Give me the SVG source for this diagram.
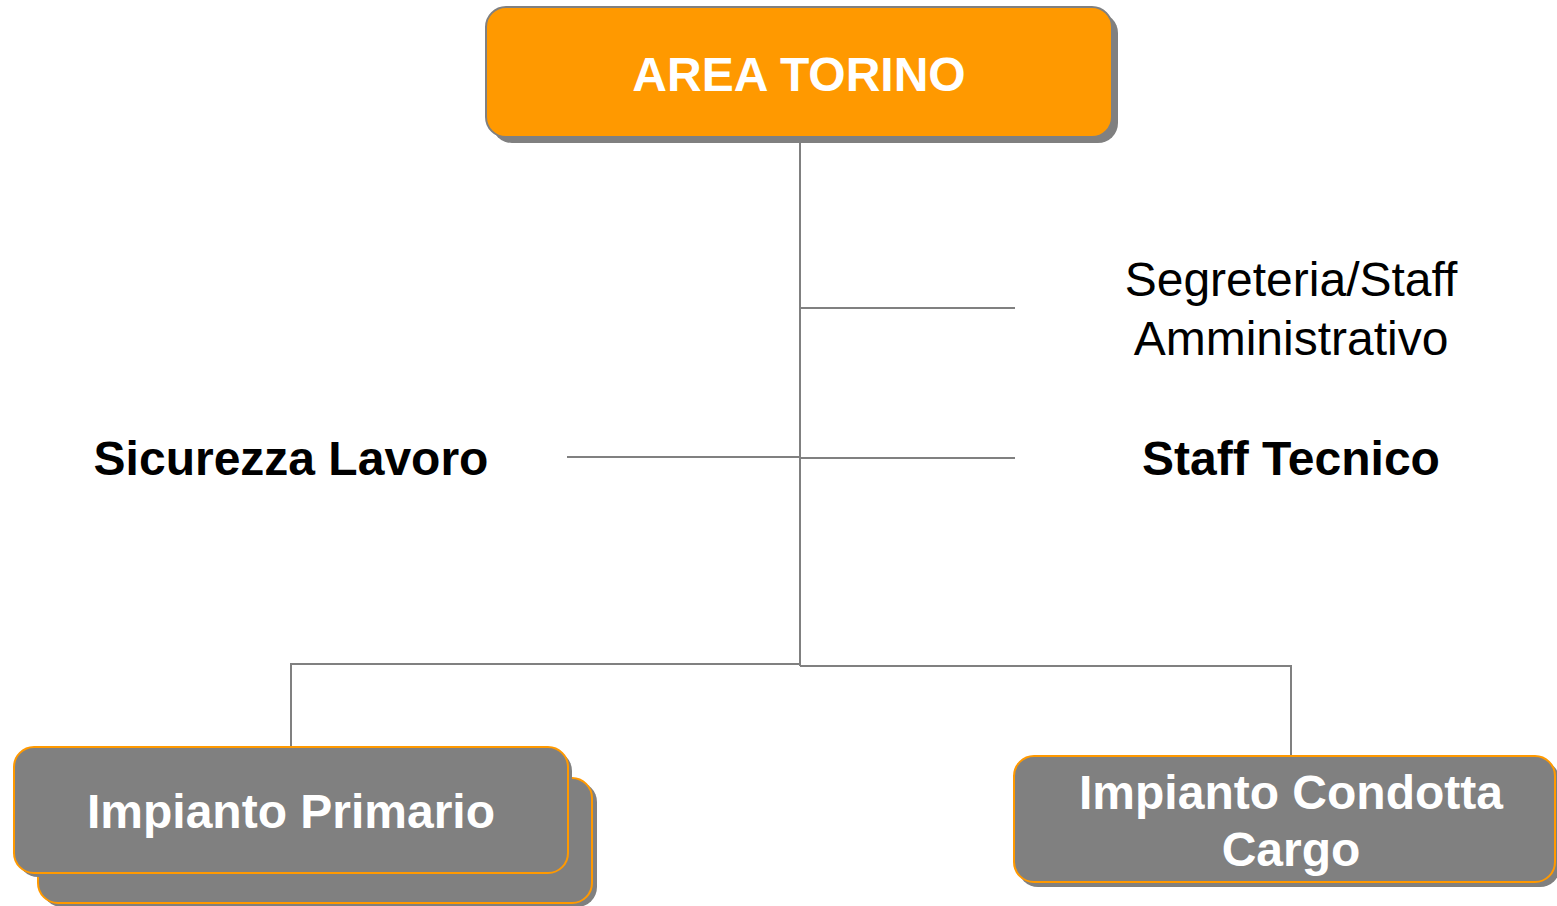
<svg xmlns="http://www.w3.org/2000/svg" width="1557" height="906" viewBox="0 0 1557 906">
<style>
.conn{stroke:#808080;stroke-width:2;fill:none}
.shadow{fill:#808080}
.top{fill:#FF9900;stroke:#808080;stroke-width:2}
.unit{fill:#808080;stroke:#FF9900;stroke-width:2}
.wt{font-family:"Liberation Sans",Arial,sans-serif;font-weight:bold;font-size:48px;fill:#FFFFFF;text-anchor:middle}
.lb{font-family:"Liberation Sans",Arial,sans-serif;font-size:48px;fill:#000000;text-anchor:middle}
.lbb{font-family:"Liberation Sans",Arial,sans-serif;font-weight:bold;font-size:48px;fill:#000000;text-anchor:middle}
</style>
<rect width="1557" height="906" fill="#FFFFFF"/>
<g id="connectors">
<line class="conn" x1="800" y1="143" x2="800" y2="666"/>
<line class="conn" x1="800" y1="308" x2="1015" y2="308"/>
<line class="conn" x1="567" y1="457" x2="800" y2="457"/>
<line class="conn" x1="800" y1="458" x2="1015" y2="458"/>
<polyline class="conn" points="291,747 291,664 800,664"/>
<polyline class="conn" points="800,666 1291,666 1291,756"/>
</g>
<g id="area-torino">
<rect class="shadow" x="492" y="13" width="626" height="130" rx="20"/>
<rect class="top" x="486" y="7" width="626" height="130" rx="20"/>
<text class="wt" x="799" y="91">AREA TORINO</text>
</g>
<g id="segreteria">
<text class="lb" x="1291" y="296">Segreteria/Staff</text>
<text class="lb" x="1291" y="355">Amministrativo</text>
</g>
<g id="sicurezza">
<text class="lbb" x="291" y="475">Sicurezza Lavoro</text>
</g>
<g id="staff-tecnico">
<text class="lbb" x="1291" y="475">Staff Tecnico</text>
</g>
<g id="impianto-primario">
<rect class="shadow" x="42" y="782" width="555" height="125" rx="20"/>
<rect class="unit" x="38" y="778" width="554" height="125" rx="20"/>
<rect class="shadow" x="18" y="751" width="554" height="126" rx="20"/>
<rect class="unit" x="14" y="747" width="554" height="126" rx="20"/>
<text class="wt" x="291" y="828">Impianto Primario</text>
</g>
<g id="impianto-condotta">
<rect class="shadow" x="1018" y="761" width="542" height="126" rx="20"/>
<rect class="unit" x="1014" y="756" width="541" height="126" rx="20"/>
<text class="wt" x="1291" y="809">Impianto Condotta</text>
<text class="wt" x="1291" y="866">Cargo</text>
</g>
</svg>
